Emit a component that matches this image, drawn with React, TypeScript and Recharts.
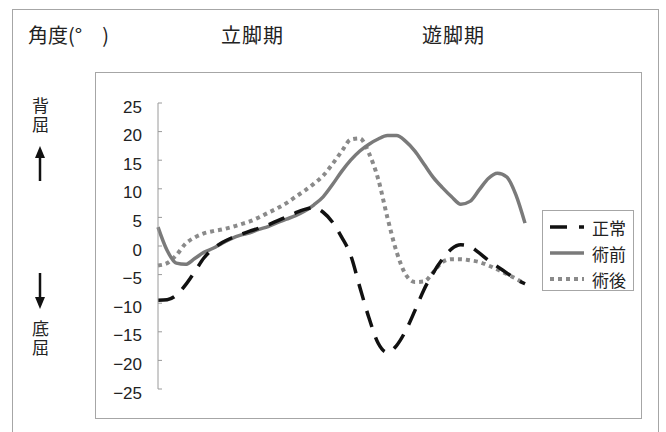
import React from "react";
import { LineChart, Line, XAxis, YAxis, Legend } from "recharts";

// 歩行周期 (%)
const cycle = [
  0, 2.5, 5, 7.5, 10, 12.5, 15, 17.5, 20, 22.5, 25, 27.5, 30, 32.5, 35, 37.5,
  40, 42.5, 45, 47.5, 50, 52.5, 55, 57.5, 60, 62.5, 65, 67.5, 70, 72.5, 75,
  77.5, 80, 82.5, 85, 87.5, 90, 92.5, 95, 97.5, 100,
];

// 正常
const normal = [
  -9.5, -9.4, -8.6, -6.8, -4.5, -2.1, -0.5, 0.6, 1.4, 2.0, 2.6, 3.1, 3.7, 4.4,
  5.1, 5.8, 6.4, 6.7, 5.9, 4.2, 1.6, -1.6, -7.2, -12.6, -17.0, -18.6, -17.4,
  -14.8, -11.3, -7.6, -4.7, -2.3, -0.5, 0.2, -0.1, -1.2, -2.5, -3.6, -4.7, -5.8,
  -6.6,
];

// 術前
const pre = [
  3.3, -0.8, -3.0, -3.2, -2.2, -1.1, -0.4, 0.5, 1.3, 1.9, 2.3, 2.9, 3.4, 4.1,
  4.7, 5.3, 6.1, 7.2, 8.6, 10.7, 13.0, 15.0, 16.6, 17.8, 18.7, 19.3, 19.3, 18.3,
  16.6, 14.3, 12.0, 10.2, 8.6, 7.3, 7.8, 9.8, 11.8, 12.7, 12.1, 9.0, 4.0,
];

// 術後
const post = [
  -3.4, -3.0, -1.6, 0.4, 1.5, 2.2, 2.6, 2.9, 3.3, 3.8, 4.3, 5.0, 5.8, 6.6, 7.5,
  8.6, 9.7, 10.9, 12.3, 14.3, 16.5, 18.6, 18.8, 16.2, 11.7, 5.0, -1.0, -5.0,
  -6.3, -6.2, -4.6, -2.8, -2.3, -2.3, -2.5, -2.8, -3.4, -4.1, -4.9, -5.7, -6.6,
];

const yTicks = [25, 20, 15, 10, 5, 0, -5, -10, -15, -20, -25];

const rows = cycle.map((c, i) => ({
  cycle: c,
  normal: normal[i],
  pre: pre[i],
  post: post[i],
}));

const JP = '"Noto Sans CJK JP", "Noto Sans", sans-serif';
const BORDER = "1.5px solid #a6a6a6";

const fmtTick = (v: number) => (v < 0 ? "−" + Math.abs(v) : String(v));

const YTick = (props: any) => {
  const { x, y, payload } = props;
  return (
    <g>
      <line x1={x} x2={x + 4} y1={y} y2={y} stroke="#9a9a9a" strokeWidth={1} />
      <text
        x={x - 16}
        y={y + 4}
        textAnchor="end"
        dominantBaseline="central"
        fontSize={17}
        fill="#222"
        fontFamily='"Liberation Sans", Arial, sans-serif'
      >
        {fmtTick(payload.value)}
      </text>
    </g>
  );
};

const legendItems = [
  { label: "正常", color: "#111", width: 3.5, dash: "17 12" },
  { label: "術前", color: "#7a7a7a", width: 3.5, dash: undefined },
  { label: "術後", color: "#8a8a8a", width: 4, dash: "4 4" },
];

const renderLegend = () => (
  <div
    style={{
      border: BORDER,
      background: "#fff",
      width: 92,
      height: 81,
      boxSizing: "border-box",
      padding: "3px 0 0 7px",
      fontFamily: JP,
    }}
  >
    {legendItems.map((it) => (
      <div
        key={it.label}
        style={{ display: "flex", alignItems: "center", height: 26 }}
      >
        <svg width={34} height={10}>
          <line
            x1={0}
            x2={34}
            y1={5}
            y2={5}
            stroke={it.color}
            strokeWidth={it.width}
            strokeDasharray={it.dash}
          />
        </svg>
        <span
          style={{ marginLeft: 8, fontSize: 17, color: "#222", lineHeight: 1 }}
        >
          {it.label}
        </span>
      </div>
    ))}
  </div>
);

const vertStyle = (top: number): React.CSSProperties => ({
  position: "absolute",
  left: 31,
  top,
  writingMode: "vertical-rl",
  fontSize: 17,
  lineHeight: "18px",
  letterSpacing: 2,
  color: "#222",
});

export default function App() {
  return (
    <div
      style={{
        position: "absolute",
        left: 0,
        top: 0,
        width: 666,
        height: 432,
        overflow: "hidden",
        background: "#fff",
        fontFamily: JP,
      }}
    >
      {/* 外枠 */}
      <div
        style={{
          position: "absolute",
          left: 12,
          top: 9,
          width: 647,
          height: 440,
          border: BORDER,
          boxSizing: "border-box",
        }}
      />
      {/* 内枠 */}
      <div
        style={{
          position: "absolute",
          left: 95,
          top: 72,
          width: 547,
          height: 347,
          border: BORDER,
          boxSizing: "border-box",
        }}
      />

      {/* 見出し */}
      <div style={{ position: "absolute", left: 28, top: 22, fontSize: 20, color: "#222", lineHeight: "26px" }}>
        角度(°　)
      </div>
      <div style={{ position: "absolute", left: 221, top: 22, fontSize: 20, color: "#222", lineHeight: "26px", letterSpacing: 1 }}>
        立脚期
      </div>
      <div style={{ position: "absolute", left: 422, top: 22, fontSize: 20, color: "#222", lineHeight: "26px", letterSpacing: 1 }}>
        遊脚期
      </div>

      {/* 背屈 / 底屈 */}
      <div style={vertStyle(97)}>背屈</div>
      <div style={vertStyle(320)}>底屈</div>
      <svg style={{ position: "absolute", left: 0, top: 0 }} width={666} height={432}>
        <line x1={40} x2={40} y1={156} y2={181} stroke="#111" strokeWidth={2.5} />
        <polygon points="35,158 45,158 40,146" fill="#111" />
        <line x1={40} x2={40} y1={273} y2={299} stroke="#111" strokeWidth={2.5} />
        <polygon points="35,297 45,297 40,309" fill="#111" />
      </svg>

      <div style={{ position: "absolute", left: 0, top: 0 }}>
        <LineChart
          width={666}
          height={432}
          data={rows}
          margin={{ top: 103, right: 141, bottom: 43, left: 0 }}
        >
          <XAxis dataKey="cycle" type="number" domain={[0, 100]} hide />
          <YAxis
            type="number"
            domain={[-25, 25]}
            ticks={yTicks}
            width={158}
            interval={0}
            axisLine={{ stroke: "#9a9a9a", strokeWidth: 1 }}
            tickLine={false}
            tickSize={0}
            tickMargin={0}
            tick={<YTick />}
          />
          <Legend
            layout="vertical"
            align="center"
            verticalAlign="middle"
            content={renderLegend}
            wrapperStyle={{ left: 542, top: 210, width: 92, height: 81 }}
          />
          <Line
            type="monotone"
            dataKey="post"
            stroke="#8a8a8a"
            strokeWidth={4}
            strokeDasharray="4 4"
            dot={false}
            isAnimationActive={false}
          />
          <Line
            type="monotone"
            dataKey="pre"
            stroke="#7a7a7a"
            strokeWidth={3.5}
            dot={false}
            isAnimationActive={false}
          />
          <Line
            type="monotone"
            dataKey="normal"
            stroke="#111"
            strokeWidth={3.5}
            strokeDasharray="17 11"
            dot={false}
            isAnimationActive={false}
          />
        </LineChart>
      </div>
    </div>
  );
}
